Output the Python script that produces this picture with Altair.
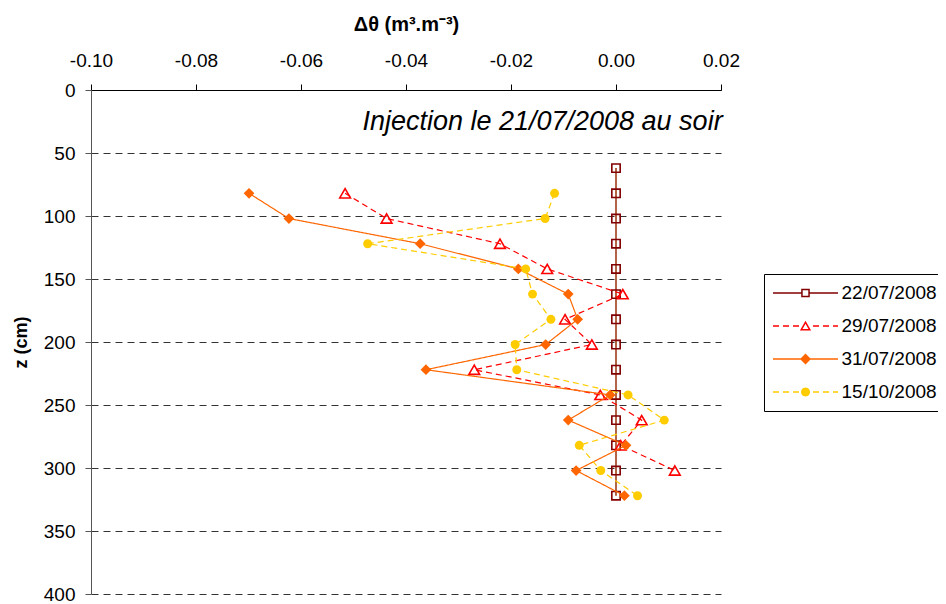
import math
import altair as alt
import pandas as pd

# ---------------- data ----------------
dates = ["22/07/2008", "29/07/2008", "31/07/2008", "15/10/2008"]

z_2207 = [62, 82, 102, 122, 142, 162, 182, 202, 222, 242, 262, 282, 302, 322]
dt_2207 = [0.0, 0.0, 0.0, 0.0, 0.0, 0.0, 0.0, 0.0, 0.0, 0.0, 0.0, 0.0, 0.0, 0.0]

z_2907 = [82, 102, 122, 142, 162, 182, 202, 222, 242, 262, 282, 302]
dt_2907 = [-0.0516, -0.0437, -0.0221, -0.0131, 0.0013, -0.0097,
           -0.0046, -0.0270, -0.0030, 0.0049, 0.0009, 0.0112]

z_3107 = [82, 102, 122, 142, 162, 182, 202, 222, 242, 262, 282, 302, 322]
dt_3107 = [-0.0699, -0.0623, -0.0373, -0.0186, -0.0091, -0.0073,
           -0.0134, -0.0362, -0.0011, -0.0091, 0.0019, -0.0076, 0.0016]

z_1510 = [82, 102, 122, 142, 162, 182, 202, 222, 242, 262, 282, 302, 322]
dt_1510 = [-0.0117, -0.0135, -0.0473, -0.0172, -0.0159, -0.0124,
           -0.0192, -0.0189, 0.0023, 0.0092, -0.0070, -0.0029, 0.0041]

x_ticks = [-0.10, -0.08, -0.06, -0.04, -0.02, 0.00, 0.02]
y_ticks = [0, 50, 100, 150, 200, 250, 300, 350, 400]

annotation = ["Injection le 21/07/2008 au soir"]
x_title = "Δθ (m³.m⁻³)"
y_title = "z (cm)"

rows = []
for d, zs, vs in zip(dates, [z_2207, z_2907, z_3107, z_1510],
                     [dt_2207, dt_2907, dt_3107, dt_1510]):
    for z, v in zip(zs, vs):
        rows.append({"date": d, "z": z, "dtheta": v})
df = pd.DataFrame(rows)

# ---------------- styles ----------------
FONT = "Liberation Sans"
line_colors = ["#a0401a", "#ff0000", "#ff6600", "#ffcc00"]
mark_colors = ["#800000", "#ff0000", "#ff6600", "#ffcc00"]
dashes = [[1, 0], [6, 4], [1, 0], [6, 4]]
shapes = ["square", "triangle-up", "diamond", "circle"]
filled = [False, False, True, True]
sizes = [70, 115, 115, 80]


# legend symbols: line + marker drawn as filled polygons (units of 10 px)
def poly(pts):
    return "M" + "L".join(f"{x:.3f},{y:.3f}" for x, y in pts) + "Z"


def bar(x0, x1, h=0.065):
    return poly([(x0, -h), (x1, -h), (x1, h), (x0, h)])


def segments(e, dashed, L=3.25):
    if not dashed:
        return [(-L, -e), (e, L)]
    out = []
    pos = -L
    while pos < L:
        a, b = pos, min(pos + 0.6, L)
        for lo, hi in ((-L, -e), (e, L)):
            s, t = max(a, lo), min(b, hi)
            if t - s > 0.05:
                out.append((s, t))
        pos += 1.0
    return out


def square_ring(h=0.43, t=0.15):
    o = [(-h, -h), (h, -h), (h, h), (-h, h)]
    i = h - t
    inner = [(-i, -i), (i, -i), (i, i), (-i, i)][::-1]
    return poly(o) + poly(inner)


def triangle_ring(t=0.15):
    A, C, B = (0.0, -0.52), (0.56, 0.44), (-0.56, 0.44)
    a = math.dist(B, C)
    b = math.dist(C, A)
    c = math.dist(A, B)
    p = a + b + c
    ix = (a * A[0] + b * B[0] + c * C[0]) / p
    iy = (a * A[1] + b * B[1] + c * C[1]) / p
    area = abs((B[0] - A[0]) * (C[1] - A[1]) - (C[0] - A[0]) * (B[1] - A[1])) / 2
    r = area / (p / 2)
    k = (r - t) / r
    inner = [(ix + k * (x - ix), iy + k * (y - iy)) for x, y in (A, B, C)]
    return poly([A, C, B]) + poly(inner)


def diamond(h=0.55):
    return poly([(-h, 0), (0, -h), (h, 0), (0, h)])


def disc(r=0.45, n=24):
    return poly([(r * math.cos(2 * math.pi * k / n), r * math.sin(2 * math.pi * k / n))
                 for k in range(n)])


marker_paths = [square_ring(), triangle_ring(), diamond(), disc()]
marker_edges = [0.43, 0.3, 0.45, 0.4]
dashed_flags = [False, True, False, True]
legend_paths = []
for mp, e, dsh in zip(marker_paths, marker_edges, dashed_flags):
    legend_paths.append("".join(bar(a, b) for a, b in segments(e, dsh)) + mp)

# ---------------- encodings ----------------
X = alt.X(
    "dtheta:Q",
    scale=alt.Scale(domain=[-0.10, 0.02], nice=False, zero=False),
    axis=alt.Axis(
        orient="top", values=x_ticks,
        labelExpr="replace(format(datum.value, '.2f'), '\u2212', '-')",
        labelFont=FONT, labelFontSize=19, labelColor="black",
        labelBaseline="alphabetic", labelPadding=18, labelFlush=False, labelOverlap=False,
        tickSize=6, tickColor="black", domainColor="black", grid=False,
        title=x_title, titleFont=FONT, titleFontSize=20, titleFontWeight="bold",
        titleColor="black", titleX=315, titleY=-60, titleBaseline="alphabetic",
        titleAlign="center",
    ),
)
Y = alt.Y(
    "z:Q",
    scale=alt.Scale(domain=[0, 400], reverse=True, nice=False, zero=False),
    axis=alt.Axis(
        orient="left", values=y_ticks, format="d",
        labelFont=FONT, labelFontSize=19, labelColor="black", labelPadding=10,
        labelFlush=False, labelOverlap=False,
        tickSize=6, tickColor="#555555", domainColor="#555555",
        grid=True, gridDash=[7, 5], gridColor="#333333", gridWidth=1,
        title=y_title, titleFont=FONT, titleFontSize=18, titleFontWeight="bold",
        titleColor="black", titleAngle=270, titleX=-65, titleY=252,
        titleBaseline="alphabetic", titleAlign="center",
    ),
)

layers = []
for i, d in enumerate(dates):
    base = alt.Chart(df).transform_filter(alt.datum.date == d)
    layers.append(
        base.mark_line(color=line_colors[i], strokeDash=dashes[i],
                       strokeWidth=1.6 if i == 0 else 1.2)
        .encode(x=X, y=Y, order=alt.Order("z:Q"))
    )
    if filled[i]:
        pm = base.mark_point(shape=shapes[i], size=sizes[i], filled=True,
                             color=mark_colors[i], opacity=1)
    else:
        pm = base.mark_point(shape=shapes[i], size=sizes[i], filled=False,
                             stroke=mark_colors[i], fill="transparent",
                             strokeWidth=1.6, opacity=1)
    layers.append(pm.encode(x=X, y=Y))

leg = alt.Legend(
    title=None, orient="none", legendX=673, legendY=184,
    symbolSize=400, symbolStrokeWidth=0, symbolOffset=22.5, symbolOpacity=1,
    labelOffset=26, labelFont=FONT, labelFontSize=19, labelColor="black",
    labelLimit=0, rowPadding=13, padding=9,
    strokeColor="black", fillColor="white",
)
legend_layer = (
    alt.Chart(df).transform_filter("false")
    .mark_point(filled=True, opacity=1)
    .encode(
        x=X, y=Y,
        color=alt.Color("date:N", scale=alt.Scale(domain=dates, range=mark_colors), legend=leg),
        shape=alt.Shape("date:N", scale=alt.Scale(domain=dates, range=legend_paths), legend=leg),
    )
)

text_layer = (
    alt.Chart(pd.DataFrame({"t": annotation}))
    .mark_text(font=FONT, fontSize=27, fontStyle="italic", align="center",
               baseline="alphabetic", color="black")
    .encode(x=alt.datum(-0.014), y=alt.datum(31.7), text="t:N")
)

chart = (
    alt.layer(*layers, legend_layer, text_layer)
    .properties(
        width=630, height=504,
        autosize=alt.AutoSizeParams(type="none"),
        padding={"left": 83, "top": 82, "right": 217, "bottom": 14},
    )
    .configure(font=FONT)
    .configure_view(stroke=None)
)

chart.save("out.html", embed_options={"renderer": "svg", "actions": False})
